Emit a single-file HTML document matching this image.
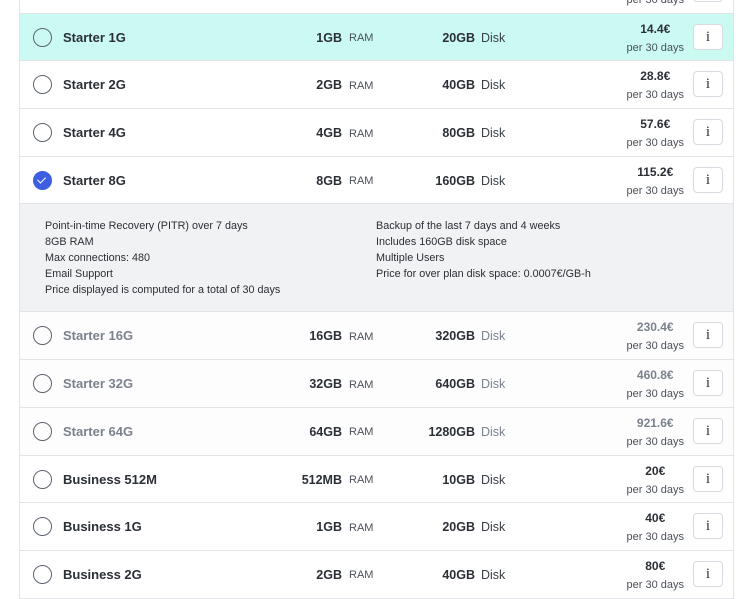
<!DOCTYPE html>
<html><head><meta charset="utf-8"><style>
*{box-sizing:border-box;margin:0;padding:0}
body{width:752px;height:564px;overflow:hidden;background:#fff;font-family:"Liberation Sans",sans-serif;position:relative;color:#1f2328}
.wrap{position:absolute;left:19px;width:715px;top:-34px;border-left:1px solid #e2e4e8;border-right:1px solid #e2e4e8}
.row{position:relative;height:47.7px;border-bottom:1px solid #e2e4e8;background:#fff}
.row.sel{background:#cbfaf3}
.row.dis{background:#fdfdfd}
.radio{position:absolute;left:13px;top:14px;width:19px;height:19px;border:1.6px solid #5c6370;border-radius:50%}
.radio.on{background:#3d5ee1;border-color:#3d5ee1}
.radio.on::after{content:"";position:absolute;left:5px;top:3.5px;width:4px;height:7px;border:solid #fff;border-width:0 1.6px 1.6px 0;transform:rotate(45deg)}
.name{position:absolute;left:43px;top:16px;font-size:13px;font-weight:bold;color:#2b2f36}
.dis .name,.dis .price b{color:#7b828d}
.ram{position:absolute;right:391px;top:17px;font-size:12.5px;font-weight:bold;color:#2b2f36}
.raml{position:absolute;left:329px;top:18.5px;font-size:11px;color:#4a5059}
.disk{position:absolute;right:258px;top:17px;font-size:12.5px;font-weight:bold;color:#2b2f36}
.diskl{position:absolute;left:461px;top:17px;font-size:12.5px;color:#3a3f47}
.dis .diskl{color:#7b828d}
.price{position:absolute;right:49px;top:7px;text-align:center;line-height:17px}
.price b{display:block;font-size:12px;color:#2b2f36}
.price span{font-size:11px;color:#4a5059}
.info{position:absolute;left:673px;top:10px;width:30px;height:26px;border:1px solid #d7dae0;border-radius:4px;background:#fff;text-align:center;font-family:"Liberation Serif",serif;font-size:15px;line-height:24px;color:#333}
.panel{height:108px;background:#f1f2f4;border-bottom:1px solid #e2e4e8;position:relative;font-size:10.8px;line-height:16px;color:#2b2f36}
.panel .c1{position:absolute;left:25px;top:14px}
.panel .c2{position:absolute;left:356px;top:14px}
</style></head><body>
<div class="wrap">
<div class="row"><div class="price"><b>7.2€</b><span>per 30 days</span></div><div class="info">i</div></div>
<div class="row sel"><div class="radio"></div><div class="name">Starter 1G</div><div class="ram">1GB</div><div class="raml">RAM</div><div class="disk">20GB</div><div class="diskl">Disk</div><div class="price"><b>14.4€</b><span>per 30 days</span></div><div class="info">i</div></div>
<div class="row"><div class="radio"></div><div class="name">Starter 2G</div><div class="ram">2GB</div><div class="raml">RAM</div><div class="disk">40GB</div><div class="diskl">Disk</div><div class="price"><b>28.8€</b><span>per 30 days</span></div><div class="info">i</div></div>
<div class="row"><div class="radio"></div><div class="name">Starter 4G</div><div class="ram">4GB</div><div class="raml">RAM</div><div class="disk">80GB</div><div class="diskl">Disk</div><div class="price"><b>57.6€</b><span>per 30 days</span></div><div class="info">i</div></div>
<div class="row"><div class="radio on"></div><div class="name">Starter 8G</div><div class="ram">8GB</div><div class="raml">RAM</div><div class="disk">160GB</div><div class="diskl">Disk</div><div class="price"><b>115.2€</b><span>per 30 days</span></div><div class="info">i</div></div>
<div class="panel"><div class="c1">Point-in-time Recovery (PITR) over 7 days<br>8GB RAM<br>Max connections: 480<br>Email Support<br>Price displayed is computed for a total of 30 days</div><div class="c2">Backup of the last 7 days and 4 weeks<br>Includes 160GB disk space<br>Multiple Users<br>Price for over plan disk space: 0.0007€/GB-h</div></div>
<div class="row dis"><div class="radio"></div><div class="name">Starter 16G</div><div class="ram">16GB</div><div class="raml">RAM</div><div class="disk">320GB</div><div class="diskl">Disk</div><div class="price"><b>230.4€</b><span>per 30 days</span></div><div class="info">i</div></div>
<div class="row dis"><div class="radio"></div><div class="name">Starter 32G</div><div class="ram">32GB</div><div class="raml">RAM</div><div class="disk">640GB</div><div class="diskl">Disk</div><div class="price"><b>460.8€</b><span>per 30 days</span></div><div class="info">i</div></div>
<div class="row dis"><div class="radio"></div><div class="name">Starter 64G</div><div class="ram">64GB</div><div class="raml">RAM</div><div class="disk">1280GB</div><div class="diskl">Disk</div><div class="price"><b>921.6€</b><span>per 30 days</span></div><div class="info">i</div></div>
<div class="row"><div class="radio"></div><div class="name">Business 512M</div><div class="ram">512MB</div><div class="raml">RAM</div><div class="disk">10GB</div><div class="diskl">Disk</div><div class="price"><b>20€</b><span>per 30 days</span></div><div class="info">i</div></div>
<div class="row"><div class="radio"></div><div class="name">Business 1G</div><div class="ram">1GB</div><div class="raml">RAM</div><div class="disk">20GB</div><div class="diskl">Disk</div><div class="price"><b>40€</b><span>per 30 days</span></div><div class="info">i</div></div>
<div class="row"><div class="radio"></div><div class="name">Business 2G</div><div class="ram">2GB</div><div class="raml">RAM</div><div class="disk">40GB</div><div class="diskl">Disk</div><div class="price"><b>80€</b><span>per 30 days</span></div><div class="info">i</div></div>
</div>
</body></html>
